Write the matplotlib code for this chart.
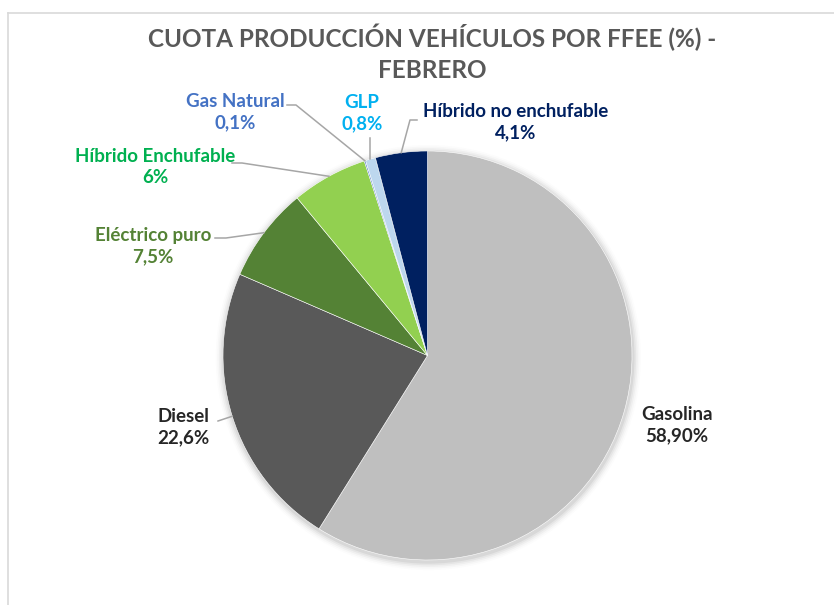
import matplotlib
matplotlib.use("Agg")
import matplotlib.pyplot as plt
from matplotlib.lines import Line2D
from matplotlib.patches import Circle
import numpy as np

plt.rcParams['font.family'] = ['Lato', 'DejaVu Sans']

# ---- data ----
categories = ["Gasolina", "Diesel", "Eléctrico puro", "Híbrido Enchufable",
              "Gas Natural", "GLP", "Híbrido no enchufable"]
values = [58.9, 22.6, 7.5, 6.0, 0.1, 0.8, 4.1]
value_labels = ["58,90%", "22,6%", "7,5%", "6%", "0,1%", "0,8%", "4,1%"]
title = "CUOTA PRODUCCIÓN VEHÍCULOS POR FFEE (%) -\nFEBRERO"

# ---- styles ----
slice_colors = ["#BFBFBF", "#595959", "#548235", "#92D050",
                "#4472C4", "#BDD7EE", "#002060"]
text_colors = ["#262626", "#262626", "#548235", "#00B050",
               "#4472C4", "#00B0F0", "#002060"]

W, H, DPI = 834, 605, 100
cx, cy, R = 427.5, 355.5, 204.5  # pixel geometry of the pie

fig = plt.figure(figsize=(W / DPI, H / DPI), dpi=DPI)
ax = fig.add_axes([0, 0, 1, 1])

# shadow
for i, a in enumerate([0.05, 0.04, 0.03, 0.02, 0.012]):
    ax.add_patch(Circle((0.004, -0.01), 1.0 + 0.008 * (i + 1), color="black",
                        alpha=a, lw=0, zorder=0))

wedges, _ = ax.pie(values, colors=slice_colors, startangle=90, counterclock=False,
                   radius=1.0, wedgeprops=dict(linewidth=0.4, edgecolor="white"))
for w in wedges:
    w.set_zorder(2)

ax.set_xlim(-cx / R, (W - cx) / R)
ax.set_ylim((cy - H) / R, cy / R)
ax.set_aspect("auto")
ax.axis("off")


def px(x, y):
    return (x - cx) / R, (cy - y) / R


# label placement (pixel centres of the two-line labels) and leader bends
label_pos = {
    "Gasolina": (677, 425),
    "Diesel": (183, 427),
    "Eléctrico puro": (153, 246),
    "Híbrido Enchufable": (155, 167),
    "Gas Natural": (235, 112),
    "GLP": (362, 113),
    "Híbrido no enchufable": (516, 122),
}
leaders = {
    "Diesel": [(218, 421)],
    "Eléctrico puro": [(215, 238), (226, 238)],
    "Híbrido Enchufable": [(232, 163), (242, 163)],
    "Gas Natural": [(287, 105), (296, 105)],
    "GLP": [(372, 138)],
    "Híbrido no enchufable": [(417, 120), (410, 120)],
}

for w, cat, vl, tc in zip(wedges, categories, value_labels, text_colors):
    tx, ty = px(*label_pos[cat])
    ax.text(tx, ty, f"{cat}\n{vl}", ha="center", va="center", fontsize=13.5,
            fontweight="bold", color=tc, linespacing=1.3, zorder=5)
    if cat in leaders:
        ang = np.deg2rad((w.theta1 + w.theta2) / 2)
        ex, ey = np.cos(ang), np.sin(ang)
        pts = [px(*p) for p in leaders[cat]]
        if cat == "GLP":
            pts = [(ex, pts[0][1])]
        xs = [p[0] for p in pts] + [ex]
        ys = [p[1] for p in pts] + [ey]
        ax.add_line(Line2D(xs, ys, color="#A6A6A6", lw=1.1, zorder=4))

fig.text(432 / W, 1 - 53 / H, title, ha="center", va="center", fontsize=17.5,
         fontweight="bold", color="#595959", linespacing=1.4)

# chart border (top and left edges visible)
fig.add_artist(Line2D([7.5 / W, 7.5 / W], [0, 1 - 12.5 / H], transform=fig.transFigure,
                      color="#D9D9D9", lw=1.2))
fig.add_artist(Line2D([7.5 / W, 1], [1 - 12.5 / H, 1 - 12.5 / H], transform=fig.transFigure,
                      color="#D9D9D9", lw=1.2))

fig.savefig("out.png", dpi=DPI, facecolor="white")
